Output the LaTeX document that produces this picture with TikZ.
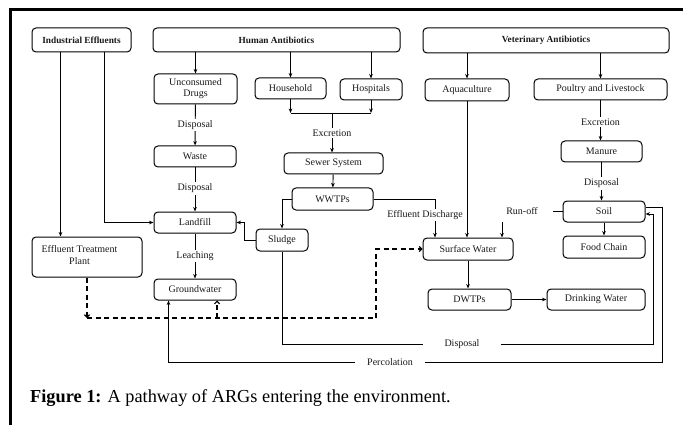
\documentclass[tikz,border=0pt]{standalone}
\usepackage{fontspec}
\setmainfont{Liberation Serif}
\usetikzlibrary{arrows.meta}
\begin{document}
\begin{tikzpicture}[x=1pt,y=-1pt,
  box/.style={draw, rounded corners=4pt, line width=1pt, inner sep=0pt, align=center,
    font=\fontsize{10}{11}\selectfont, text=black!90},
  titlebox/.style={box, font=\fontsize{9.3}{11}\selectfont\bfseries},
  conn/.style={line width=0.9pt, -{Stealth[length=4.5pt,width=3.6pt]}},
  plainline/.style={line width=0.9pt},
  dashconn/.style={line width=1.2pt, dash pattern=on 5pt off 3.5pt, -{Straight Barb[length=2.5pt,width=5pt]}},
  dashline/.style={line width=1.2pt, dash pattern=on 5pt off 3.5pt},
  lbl/.style={fill=white, inner sep=1.5pt, font=\fontsize{10}{11}\selectfont, text=black!90}
]
\useasboundingbox (0,0) rectangle (683,425);
% frame
\draw[line width=3pt] (10,425) -- (10,9.5) -- (683,9.5);

% top row
\node[titlebox, minimum width=99, minimum height=24] (ind) at (81.5,40) {Industrial Effluents};
\node[titlebox, minimum width=247, minimum height=24] (human) at (276.5,40) {Human Antibiotics};
\node[titlebox, minimum width=246, minimum height=25] (vet) at (546,40.5) {Veterinary Antibiotics};

% human column
\node[box, minimum width=83, minimum height=30] (uncons) at (195.5,89) {Unconsumed\\Drugs};
\node[box, minimum width=82, minimum height=21] (waste) at (195,156.5) {Waste};
\node[box, minimum width=82, minimum height=21] (landfill) at (195,222.5) {Landfill};
\node[box, minimum width=82, minimum height=21] (ground) at (195,289.5) {Groundwater};
\node[box, minimum width=71, minimum height=21] (household) at (290.5,88.5) {Household};
\node[box, minimum width=62, minimum height=21] (hospitals) at (371,89.5) {Hospitals};
\node[box, minimum width=99, minimum height=21] (sewer) at (333.5,163.5) {Sewer System};
\node[box, minimum width=81, minimum height=22] (wwtps) at (332.5,199) {WWTPs};
\node[box, minimum width=52, minimum height=22] (sludge) at (282,240) {Sludge};
\node[box, minimum width=110, minimum height=40] (etp) at (87,257) {};
\node[font=\fontsize{10}{11.5}\selectfont, align=center, text=black!90] (etptext) at (79.5,255) {Effluent Treatment\\Plant};

% vet column
\node[box, minimum width=84, minimum height=22] (aqua) at (467,90) {Aquaculture};
\node[box, minimum width=133, minimum height=21] (poultry) at (600.5,89.5) {Poultry and Livestock};
\node[box, minimum width=81, minimum height=21] (manure) at (601.5,151.5) {Manure};
\node[box, minimum width=82, minimum height=21] (soil) at (604,211.5) {Soil};
\node[box, minimum width=82, minimum height=22] (food) at (604,247) {Food Chain};
\node[box, minimum width=90, minimum height=22] (sw) at (468,249) {Surface Water};
\node[box, minimum width=83, minimum height=21] (dwtps) at (469.5,299.5) {DWTPs};
\node[box, minimum width=98, minimum height=21] (drink) at (596,299.5) {Drinking Water};

% coordinates
\coordinate (j) at (332,113);
\coordinate (ed) at (435,199);
\coordinate (ro) at (502,222);
\coordinate (dl) at (87,318);
\coordinate (dr) at (376,318);
\coordinate (dg) at (217,318);
\coordinate (dp) at (653,344);
\coordinate (pc) at (662,362);

% human antibiotics
\draw[conn] (human.south -| uncons) -- (uncons);
\draw[conn] (human.south -| household) -- (household);
\draw[conn] (human.south -| hospitals) -- (hospitals);
\draw[conn] (uncons) -- node[lbl]{Disposal} (waste);
\draw[conn] (waste) -- node[lbl, yshift=1pt]{Disposal} (landfill);
\draw[conn] (landfill) -- node[lbl]{Leaching} (ground);
\draw[conn] (household) -- (household |- j);
\draw[conn] (hospitals) -- (hospitals |- j);
\draw[plainline] (household |- j) -- (hospitals |- j);
\draw[conn] (j) -- node[lbl]{Excretion} (j |- sewer.north);
\draw[conn] (sewer) -- (wwtps);
\draw[conn] (wwtps.west) -| (sludge);
\draw[conn] (sludge.west) -- ++(-11,0) |- (landfill);

% industrial
\draw[conn] ([xshift=29pt]ind.south west) -- ([xshift=29pt]ind.south west |- etp.north);
\draw[conn] ([xshift=73pt]ind.south west) |- (landfill);

% veterinary
\draw[conn] (vet.south -| aqua) -- (aqua);
\draw[conn] (vet.south -| poultry) -- (poultry);
\draw[conn] (aqua) -- (aqua |- sw.north);
\draw[conn] (poultry) -- node[lbl, yshift=-1.5pt]{Excretion} (poultry |- manure.north);
\draw[conn] (manure) -- node[lbl, yshift=-2pt]{Disposal} (manure |- soil.north);
\draw[conn] (soil) -- (food);

% surface water inputs
\draw[conn] (wwtps.east) -- (ed) -- (ed |- sw.north);
\node[lbl] (edl) at (425,215) {Effluent Discharge};
\draw[plainline] (soil.west) -- ++(-10,0);
\draw[conn] (ro) -- (ro |- sw.north);
\node[lbl] (rol) at (522,211) {Run-off};
\draw[conn] (sw) -- (sw |- dwtps.north);
\draw[conn] (dwtps) -- (drink);

% dashed
\draw[dashconn] (etp) -- (dl);
\draw[dashline] (dl) -- (dr);
\draw[dashconn] (dr) |- (sw);
\draw[dashconn] (dg) -- (dg |- ground.south);

% disposal and percolation
\draw[conn] (sludge) |- (dp) |- ([yshift=-2.5pt]soil.east);
\node[lbl, minimum width=78] (dpl) at (462,344) {Disposal};
\draw[conn] ([yshift=4.5pt]soil.east) -| (pc) -| ([xshift=15pt]ground.south west);
\node[lbl, minimum width=70] (pcl) at (390,362) {Percolation};

% caption
\node[anchor=base west, inner sep=0pt, font=\fontsize{18.3}{20}\selectfont] (cap) at (30,402)
  {\textbf{Figure 1:} A pathway of ARGs entering the environment.};
\end{tikzpicture}
\end{document}
